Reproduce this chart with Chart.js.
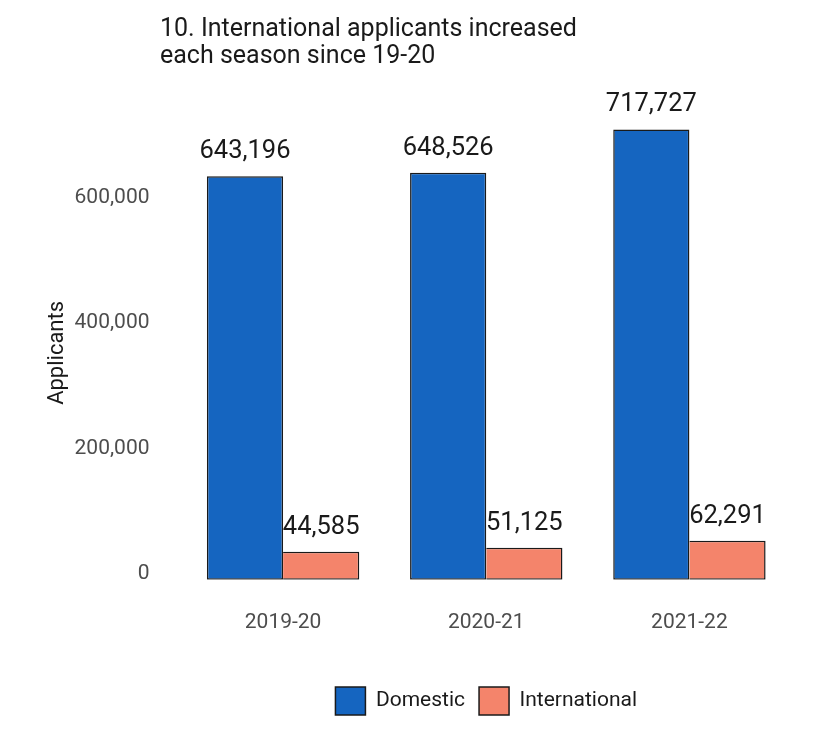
<!DOCTYPE html>
<html lang="en">
<head>
  <meta charset="UTF-8">
  <title>International applicants</title>
  <script src="https://cdn.jsdelivr.net/npm/chart.js@4.4.0/dist/chart.umd.min.js"></script>
  <style>
    body { margin: 0; background: #fff; font-family: Roboto, sans-serif; }
    .wrap { position: relative; width: 835px; height: 743px; }
    .title {
      position: absolute; left: 160px; top: 14px;
      font-size: 25px; line-height: 27px; color: #1a1a1a;
    }
    canvas { display: block; }
  </style>
</head>
<body>
  <div class="wrap">
    <div class="title">10. International applicants increased<br>each season since 19-20</div>
    <canvas id="chart" width="835" height="743"></canvas>
  </div>
  <script>
    // data
    const seasons = ['2019-20', '2020-21', '2021-22'];
    const domestic = [643196, 648526, 717727];
    const international = [44585, 51125, 62291];
    const yTicks = [0, 200000, 400000, 600000];

    const fmt = v => v.toLocaleString('en-US');

    // value labels above each bar
    const valueLabels = {
      id: 'valueLabels',
      afterDatasetsDraw(chart) {
        const ctx = chart.ctx;
        ctx.save();
        ctx.font = '25.5px Roboto';
        ctx.fillStyle = '#1a1a1a';
        ctx.textAlign = 'center';
        ctx.textBaseline = 'alphabetic';
        chart.data.datasets.forEach((ds, i) => {
          chart.getDatasetMeta(i).data.forEach((bar, j) => {
            ctx.fillText(fmt(ds.data[j]), bar.x, bar.y - 18);
          });
        });
        ctx.restore();
      }
    };

    new Chart(document.getElementById('chart'), {
      type: 'bar',
      data: {
        labels: seasons,
        datasets: [
          {
            label: 'Domestic',
            data: domestic,
            backgroundColor: '#1565c0',
            borderColor: '#1a1a1a',
            borderWidth: 1.5,
            borderSkipped: false
          },
          {
            label: 'International',
            data: international,
            backgroundColor: '#f4846b',
            borderColor: '#1a1a1a',
            borderWidth: 1.5,
            borderSkipped: 'left'
          }
        ]
      },
      options: {
        responsive: false,
        animation: false,
        categoryPercentage: 0.75,
        barPercentage: 1.0,
        layout: { padding: { top: 126, left: 38, right: 44, bottom: 18 } },
        scales: {
          x: {
            grid: { display: false },
            border: { display: false },
            afterFit(scale) { scale.height += 16; },
            ticks: { color: '#4d4d4d', font: { family: 'Roboto', size: 21 }, padding: 22 }
          },
          y: {
            min: 0,
            max: 723200,
            grid: { display: false },
            border: { display: false },
            afterBuildTicks(scale) {
              scale.ticks = yTicks.map(v => ({ value: v }));
            },
            afterFit(scale) { scale.width = 143.5; },
            ticks: {
              color: '#4d4d4d',
              font: { family: 'Roboto', size: 21 },
              padding: 24,
              labelOffset: -6,
              callback: v => fmt(v)
            },
            title: {
              display: true,
              text: 'Applicants',
              color: '#1a1a1a',
              font: { family: 'Roboto', size: 22 },
              padding: { top: 6, bottom: 0 }
            }
          }
        },
        plugins: {
          legend: {
            position: 'bottom',
            fullSize: false,
            labels: {
              color: '#1a1a1a',
              font: { family: 'Roboto', size: 21 },
              boxWidth: 30,
              boxHeight: 28,
              padding: 14
            }
          },
          tooltip: { enabled: false }
        }
      },
      plugins: [valueLabels]
    });
  </script>
</body>
</html>
